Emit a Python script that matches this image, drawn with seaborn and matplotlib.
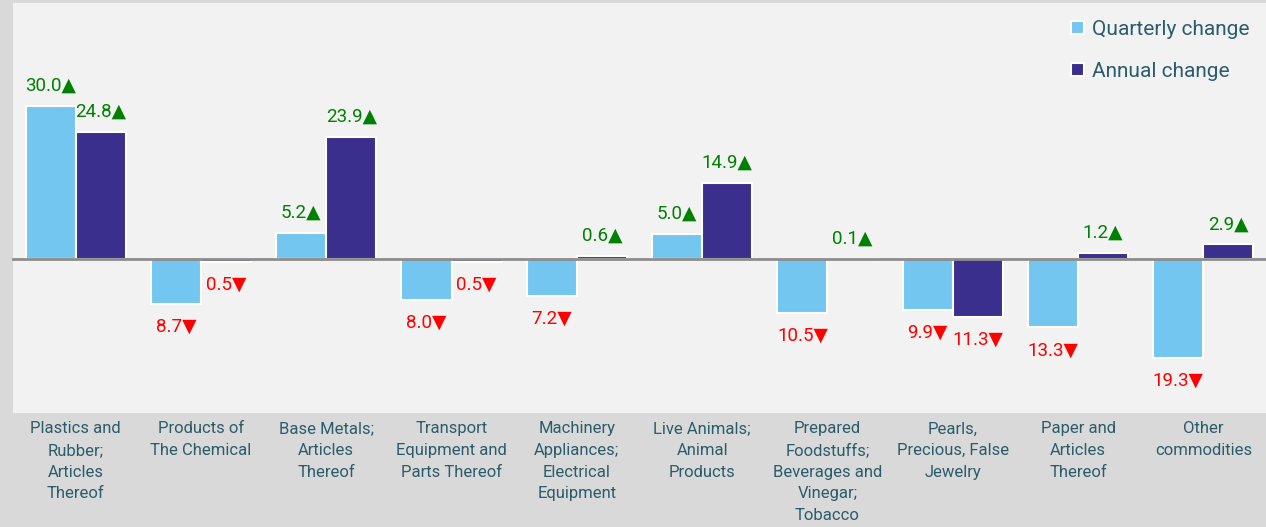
import matplotlib
matplotlib.use('Agg')
import matplotlib.pyplot as plt
import seaborn as sns
import pandas as pd
import numpy as np

# data
categories = ['Plastics and\nRubber;\nArticles\nThereof',
              'Products of\nThe Chemical',
              'Base Metals;\nArticles\nThereof',
              'Transport\nEquipment and\nParts Thereof',
              'Machinery\nAppliances;\nElectrical\nEquipment',
              'Live Animals;\nAnimal\nProducts',
              'Prepared\nFoodstuffs;\nBeverages and\nVinegar;\nTobacco',
              'Pearls,\nPrecious, False\nJewelry',
              'Paper and\nArticles\nThereof',
              'Other\ncommodities']
quarterly = [30.0, -8.7, 5.2, -8.0, -7.2, 5.0, -10.5, -9.9, -13.3, -19.3]
annual = [24.8, -0.5, 23.9, -0.5, 0.6, 14.9, 0.1, -11.3, 1.2, 2.9]
series_names = ['Quarterly change', 'Annual change']

df = pd.DataFrame({
    'category': categories * 2,
    'value': quarterly + annual,
    'series': [series_names[0]] * len(categories) + [series_names[1]] * len(categories),
})

text_col = '#2a5c6b'
line_col = '#8c8c8c'

sns.set_style('white')
plt.rcParams['font.family'] = ['Roboto', 'DejaVu Sans']

fig = plt.figure(figsize=(12.66, 5.27), dpi=100, facecolor='#d9d9d9')
ax = fig.add_axes([13 / 1266, 114 / 527, 1253 / 1266, 410 / 527])
ax.set_facecolor('#f2f2f2')

sns.barplot(data=df, x='category', y='value', hue='series',
            palette=['#73c6ef', '#3b2f8d'], saturation=1,
            edgecolor='white', linewidth=1.5, width=0.8, ax=ax)

# value labels, arrows and colour by sign
for container, vals in zip(ax.containers, [quarterly, annual]):
    pos = [f'{v:.1f}\u25b2' if v >= 0 else '' for v in vals]
    neg = [f'{abs(v):.1f}\u25bc' if v < 0 else '' for v in vals]
    ax.bar_label(container, labels=pos, padding=8, fontsize=13.5, color='#008000')
    ax.bar_label(container, labels=neg, padding=10, fontsize=13.5, color='#ff0000')

ax.set_ylim(-30, 50)
ax.set_xlim(-0.5, 9.5)
ax.set_xlabel('')
ax.set_ylabel('')
ax.set_yticks([])

for s in ['top', 'right', 'left']:
    ax.spines[s].set_visible(False)
ax.spines['bottom'].set_position(('data', 0))
ax.spines['bottom'].set_color(line_col)
ax.spines['bottom'].set_linewidth(2)

ax.set_xticks(range(len(categories)))
ax.set_xticklabels([])
ax.tick_params(axis='x', which='major', length=0)
ax.set_xticks(np.arange(-0.5, len(categories), 1), minor=True)
ax.tick_params(axis='x', which='minor', length=5, width=1.5, color=line_col, direction='out')

# category labels at the bottom of the plot area
sec = ax.secondary_xaxis('bottom')
sec.set_xticks(range(len(categories)))
sec.set_xticklabels(categories)
sec.tick_params(axis='x', length=0, pad=6, labelsize=12, labelcolor=text_col)
sec.spines['bottom'].set_visible(False)
plt.setp(sec.get_xticklabels(), linespacing=1.55)

handles, labels = ax.get_legend_handles_labels()
ax.legend(handles, labels, loc='upper right', frameon=False, fontsize=15,
          labelcolor=text_col, handlelength=0.6, handleheight=0.6,
          handletextpad=0.4, labelspacing=1.1, borderaxespad=0.4)

fig.savefig('out.png', dpi=100, facecolor=fig.get_facecolor())
